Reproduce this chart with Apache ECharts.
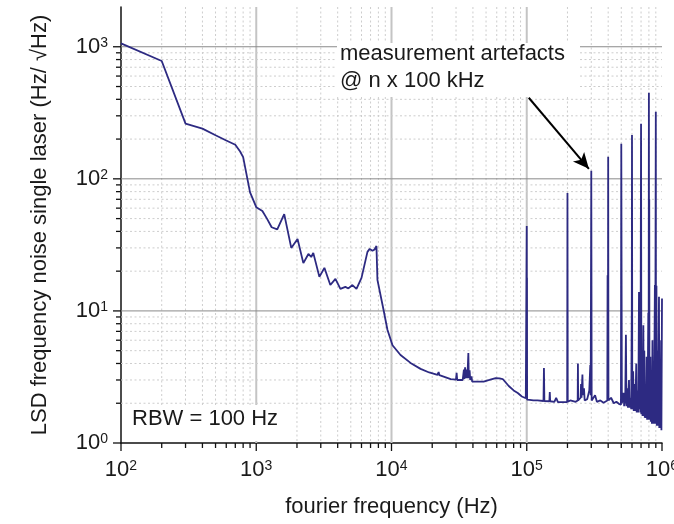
<!DOCTYPE html>
<html>
<head>
<meta charset="utf-8">
<script src="https://cdn.jsdelivr.net/npm/echarts@6/dist/echarts.min.js"></script>
<style>
html, body { margin: 0; padding: 0; background: #fff; }
#chart { width: 674px; height: 524px; }
</style>
</head>
<body>
<div id="chart"></div>
<script>
// fourier frequency (Hz)
const freq = [
  100, 200, 300, 400, 500, 600, 700, 760, 800, 900,
  1000, 1110, 1200, 1300, 1430, 1610, 1815, 2020, 2230, 2430,
  2550, 2640, 2930, 3190, 3530, 3850, 4190, 4560, 4800, 5140,
  5510, 6000, 6640, 6900, 7230, 7500, 7740, 7870, 8730, 9330,
  10170, 11660, 13830, 16400, 19000, 21900, 22300, 22600, 27400, 30000,
  30300, 30600, 33600, 34300, 34600, 35000, 35400, 36000, 36400, 37000,
  37300, 37800, 38200, 39000, 39500, 40500, 48000, 53000, 58900, 63000,
  66400, 73600, 80000, 85800, 92000, 98400, 99700, 100000, 100200, 100400,
  100600, 105000, 112000, 120000, 133000, 134000, 135000, 147000, 148000, 149000,
  160000, 165000, 170000, 190000, 199000, 200000, 201000, 210000, 230000, 238000,
  239000, 240000, 250000, 252000, 254000, 258000, 260000, 265000, 268000, 280000,
  290000, 295000, 297000, 300000, 302000, 310000, 320000, 330000, 350000, 370000,
  394000, 396000, 398000, 400000, 402000, 410000, 420000, 440000, 460000, 480000,
  497000, 500000, 505000, 510000, 520000, 525000, 535000, 541000, 546000, 555000,
  560000, 570000, 575000, 585000, 592000, 598000, 600000, 603000, 612000, 618000,
  628000, 635000, 645000, 650000, 660000, 668000, 676000, 680000, 688000, 693000,
  700000, 704000, 712000, 718000, 728000, 733000, 740000, 746000, 755000, 762000,
  770000, 776000, 785000, 792000, 796000, 800000, 803000, 805000, 808000, 812000,
  820000, 826000, 835000, 842000, 850000, 856000, 865000, 872000, 886000, 890000,
  900000, 903000, 910000, 915000, 925000, 932000, 950000, 955000, 965000, 972000,
  985000, 990000, 1000000
];
// LSD frequency noise (Hz/sqrt(Hz))
const lsd = [
  1060, 780, 262, 240, 214, 195, 181, 161, 146, 79,
  61, 57, 50, 43, 41.5, 54, 30, 35, 23, 27,
  25.6, 27.5, 18.1, 21.2, 15.7, 17.5, 14.7, 15.2, 14.8, 15.7,
  14.7, 17.8, 28, 29.5, 28.5, 29.2, 31, 17.2, 10.2, 7.2,
  5.5, 4.64, 4.04, 3.64, 3.42, 3.28, 3.45, 3.26, 3.05, 3.02,
  3.4, 3.0, 3.0, 3.6, 3.05, 3.75, 3.1, 3.6, 3.1, 4.8,
  3.1, 3.55, 3.0, 3.2, 2.92, 2.9, 2.92, 3.0, 3.1, 3.08,
  3.05, 2.7, 2.5, 2.39, 2.25, 2.18, 2.15, 44, 2.2, 17.8,
  2.13, 2.12, 2.1, 2.1, 2.08, 3.7, 2.08, 2.07, 2.43, 2.07,
  2.05, 2.2, 2.04, 2.04, 2.04, 78, 2.05, 2.1, 2.05, 2.1,
  4.0, 2.1, 2.2, 2.8, 2.2, 3.3, 2.3, 2.6, 2.1, 2.15,
  2.5, 3.9, 2.3, 115, 2.1, 2.1, 2.3, 2.05, 2.1, 2.02,
  2.1, 18.6, 2.2, 147, 2.1, 2.05, 2.2, 2.0, 2.05, 1.98,
  1.95, 184, 2.0, 1.95, 2.4, 1.9, 2.2, 6.6, 1.9, 2.6,
  1.85, 3.0, 1.85, 2.2, 1.8, 10.7, 215, 1.8, 3.5, 1.75,
  2.8, 1.75, 4.0, 1.7, 2.5, 1.7, 13.9, 1.8, 13.5, 1.7,
  261, 1.65, 3.5, 1.6, 7.8, 1.6, 5.0, 1.55, 2.8, 1.55,
  4.5, 1.5, 3.0, 9.7, 1.5, 449, 1.5, 70, 1.5, 1.45,
  4.5, 1.45, 3.0, 1.4, 6.0, 1.4, 3.5, 1.4, 15.7, 1.4,
  322, 1.4, 15.5, 1.35, 5.0, 1.35, 12.8, 1.3, 4.0, 1.3,
  6.0, 1.25, 12.4
];

const xDecades = [1e2, 1e3, 1e4, 1e5, 1e6];
const yDecades = [1e0, 1e1, 1e2, 1e3];
const minorSteps = [2, 3, 4, 5, 6, 7, 8, 9];
const xMin = 1e2, xMax = 1e6, yMin = 1, yMax = 2000;

// arrow of the annotation, in data units
const arrowFrom = [1.035e5, 411];
const arrowTo = [2.88e5, 119];

const lineColor = '#2d2a82';
const font = 'Liberation Sans, Arial, sans-serif';

// grid items: [value, kind]  kind 0 = minor, 1 = major line, 2 = major tick only
const xGrid = [];
xDecades.forEach((d, i) => {
  xGrid.push([d, 1, (i === 0 || i === xDecades.length - 1) ? 2 : 1]);
  if (d < xMax) minorSteps.forEach(m => xGrid.push([d * m, 1, 0]));
});
const yGrid = [];
yDecades.forEach((d, i) => {
  yGrid.push([xMin, d, i === 0 ? 2 : 1]);
  minorSteps.forEach(m => { if (d * m < yMax) yGrid.push([xMin, d * m, 0]); });
});

function powLabel(v) {
  const l = Math.log10(v);
  const e = Math.round(l);
  if (Math.abs(l - e) > 1e-6) return '';
  return '{b|10}{s|' + e + '}';
}

const labelRich = {
  b: { fontSize: 22, fontFamily: font, color: '#1a1a1a' },
  s: { fontSize: 14, fontFamily: font, color: '#1a1a1a', verticalAlign: 'top', padding: [0, 0, 6, 0] }
};

function renderXGrid(params, api) {
  const cs = params.coordSys;
  const x = api.coord([api.value(0), yMin])[0];
  const kind = api.value(2);
  const bottom = cs.y + cs.height;
  const children = [];
  if (kind === 0) {
    children.push({ type: 'line', shape: { x1: x, y1: cs.y, x2: x, y2: bottom },
      style: { stroke: '#cdcdcd', lineWidth: 1, lineDash: [2, 2.5] } });
  } else if (kind === 1) {
    children.push({ type: 'line', shape: { x1: x, y1: cs.y, x2: x, y2: bottom },
      style: { stroke: '#c4c4c4', lineWidth: 2 } });
  }
  children.push({ type: 'line', shape: { x1: x, y1: bottom, x2: x, y2: bottom + (kind === 0 ? 5 : 8) },
    style: { stroke: '#111', lineWidth: 1.3 } });
  return { type: 'group', children: children };
}

function renderYGrid(params, api) {
  const cs = params.coordSys;
  const y = api.coord([xMin, api.value(1)])[1];
  const kind = api.value(2);
  const left = cs.x;
  const children = [];
  if (kind === 0) {
    children.push({ type: 'line', shape: { x1: left, y1: y, x2: cs.x + cs.width, y2: y },
      style: { stroke: '#cdcdcd', lineWidth: 1, lineDash: [2, 2.5] } });
  } else if (kind === 1) {
    children.push({ type: 'line', shape: { x1: left, y1: y, x2: cs.x + cs.width, y2: y },
      style: { stroke: '#8a8a8a', lineWidth: 1 } });
  }
  children.push({ type: 'line', shape: { x1: left - (kind === 0 ? 5 : 8), y1: y, x2: left, y2: y },
    style: { stroke: '#111', lineWidth: 1.3 } });
  return { type: 'group', children: children };
}

const chart = echarts.init(document.getElementById('chart'), null, { renderer: 'canvas' });

const option = {
  animation: false,
  backgroundColor: '#fff',
  grid: { left: 121, right: 12, top: 7, bottom: 81, containLabel: false, outerBoundsMode: 'none' },
  xAxis: {
    type: 'log', logBase: 10, min: xMin, max: xMax,
    name: 'fourier frequency (Hz)', nameLocation: 'middle', nameGap: 53,
    nameTextStyle: { fontSize: 22, fontFamily: font, color: '#1a1a1a' },
    axisLine: { show: true, lineStyle: { color: '#111', width: 1.5 } },
    axisTick: { show: false },
    splitLine: { show: false },
    minorSplitLine: { show: false },
    axisLabel: { formatter: powLabel, rich: labelRich, margin: 16, showMinLabel: true, showMaxLabel: true }
  },
  yAxis: {
    type: 'log', logBase: 10, min: yMin, max: yMax,
    name: 'LSD frequency noise single laser (Hz/ \u221AHz)', nameLocation: 'middle', nameGap: 70,
    nameTextStyle: { fontSize: 22, fontFamily: font, color: '#1a1a1a' },
    axisLine: { show: true, lineStyle: { color: '#111', width: 1.5 } },
    axisTick: { show: false },
    splitLine: { show: false },
    axisLabel: { formatter: powLabel, rich: labelRich, margin: 13 }
  },
  graphic: [
    { type: 'rect', z: 3, shape: { x: 337, y: 43, width: 243, height: 54 }, style: { fill: '#fff' } },
    { type: 'text', z: 6, left: 340, top: 40,
      style: { text: 'measurement artefacts\n@ n x 100 kHz', fontSize: 22, fontFamily: font, lineHeight: 27, fill: '#1a1a1a' } },
    { type: 'rect', z: 3, shape: { x: 123, y: 405, width: 168, height: 36 }, style: { fill: '#fff' } },
    { type: 'text', z: 6, left: 132, top: 405,
      style: { text: 'RBW = 100 Hz', fontSize: 22, fontFamily: font, lineHeight: 27, fill: '#1a1a1a' } }
  ],
  series: [
    {
      type: 'custom', z: 1, silent: true, clip: false,
      renderItem: renderXGrid,
      data: xGrid
    },
    {
      type: 'custom', z: 1, silent: true, clip: false,
      renderItem: renderYGrid,
      data: yGrid
    },
    {
      type: 'line', z: 5,
      data: freq.map((f, i) => [f, lsd[i]]),
      showSymbol: false,
      lineStyle: { color: lineColor, width: 1.8 },
      itemStyle: { color: lineColor },
      markLine: {
        silent: true,
        symbol: ['none', 'arrow'],
        symbolSize: [11, 16],
        label: { show: false },
        lineStyle: { color: '#000', width: 2, type: 'solid' },
        data: [[{ coord: arrowFrom }, { coord: arrowTo }]]
      }
    }
  ]
};

chart.setOption(option);
</script>
</body>
</html>
